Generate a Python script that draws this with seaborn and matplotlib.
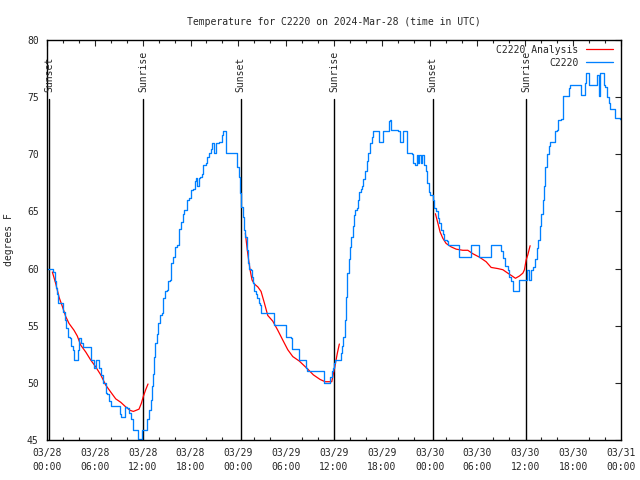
import seaborn as sns
import matplotlib.pyplot as plt
import pandas as pd
import numpy as np

# hours since 2024-03-28 00:00 UTC
obs_hours = [0.0, 0.67, 0.79, 1.0, 1.13, 1.29, 1.42, 1.92,
             2.05, 2.22, 2.42, 2.63, 2.89, 2.97, 3.22, 3.43,
             3.64, 3.85, 4.05, 4.23, 4.48, 5.40, 5.56, 5.90,
             6.11, 6.40, 6.56, 6.81, 7.03, 7.37, 7.57, 7.74,
             7.99, 8.91, 9.12, 9.25, 9.66, 9.82, 10.0, 10.25,
             10.58, 10.75, 11.25, 11.46, 11.76, 11.96, 12.38, 12.58,
             12.80, 13.01, 13.17, 13.34, 13.46, 13.59, 13.76, 13.96,
             14.18, 14.43, 14.59, 14.81, 15.02, 15.18, 15.43, 15.60,
             15.77, 16.06, 16.35, 16.60, 16.78, 17.03, 17.23, 17.53,
             17.85, 18.03, 18.28, 18.53, 18.70, 18.86, 19.03, 19.20,
             19.45, 19.61, 19.91, 20.11, 20.33, 20.58, 20.74, 20.95,
             21.20, 21.54, 21.74, 21.92, 22.05, 22.30, 22.50, 23.68,
             23.88, 24.09, 24.22, 24.38, 24.55, 24.72, 24.88, 25.06,
             25.22, 25.38, 25.56, 25.72, 25.85, 26.01, 26.22, 26.39,
             26.56, 26.73, 26.89, 28.32, 28.48, 29.77, 29.99, 30.61,
             30.74, 31.41, 31.58, 32.28, 32.50, 32.58, 34.59, 34.79,
             35.38, 35.51, 35.72, 35.85, 36.01, 36.14, 36.68, 36.85,
             37.01, 37.18, 37.35, 37.52, 37.68, 37.85, 38.02, 38.18,
             38.36, 38.52, 38.68, 38.86, 39.02, 39.18, 39.36, 39.52,
             39.69, 39.90, 40.11, 40.28, 40.53, 40.74, 40.94, 41.44,
             41.66, 41.99, 42.20, 42.70, 42.87, 43.04, 43.20, 44.08,
             44.29, 44.54, 44.71, 44.96, 45.13, 45.21, 45.80, 45.96,
             46.21, 46.39, 46.55, 46.71, 46.89, 47.05, 47.30, 47.55,
             47.72, 47.89, 48.06, 48.39, 48.59, 48.81, 49.02, 49.22,
             49.44, 49.65, 49.85, 50.15, 50.31, 51.53, 51.73, 52.91,
             53.20, 53.95, 54.17, 55.50, 55.75, 56.75, 56.96, 57.25,
             57.50, 57.80, 58.00, 58.25, 58.50, 59.06, 59.26, 60.10,
             60.26, 60.52, 60.69, 61.02, 61.23, 61.44, 61.64, 61.86,
             62.02, 62.20, 62.36, 62.52, 62.70, 62.95, 63.11, 63.53,
             63.74, 63.95, 64.15, 64.45, 64.70, 64.78, 65.28, 65.46,
             65.62, 66.79, 67.00, 67.29, 67.47, 67.59, 67.84, 68.04,
             68.80, 68.97, 69.26, 69.39, 69.60, 69.81, 70.01, 70.30,
             70.48, 70.64, 71.06, 71.23, 71.90, 72.0]
obs_temp = [60.0, 60.0, 59.7, 58.9, 58.3, 57.8, 57.0, 57.0,
            56.2, 55.5, 54.8, 54.0, 53.9, 53.2, 52.9, 52.0,
            52.0, 52.9, 53.9, 53.5, 53.1, 53.1, 52.0, 51.3,
            52.0, 52.0, 51.3, 50.7, 50.0, 49.1, 49.0, 48.4,
            48.0, 48.0, 47.3, 47.0, 47.0, 47.9, 47.8, 47.4,
            46.8, 45.9, 45.9, 45.05, 45.0, 45.9, 45.9, 46.8,
            47.6, 48.5, 49.7, 50.8, 52.3, 53.5, 54.3, 55.2,
            55.9, 56.1, 57.4, 58.0, 58.1, 58.9, 59.0, 60.5,
            61.0, 61.9, 62.1, 63.5, 64.1, 64.8, 65.1, 66.0,
            66.2, 66.9, 67.0, 67.7, 67.9, 67.2, 67.9, 68.0,
            68.3, 69.1, 69.2, 69.8, 70.1, 70.5, 71.0, 70.1,
            71.0, 71.1, 71.1, 71.7, 72.0, 72.0, 70.1, 70.1,
            68.9, 68.0, 66.6, 65.4, 64.5, 63.4, 62.8, 61.6,
            60.5, 60.0, 59.9, 59.3, 58.7, 58.0, 57.8, 57.4,
            57.0, 56.8, 56.1, 56.1, 55.1, 55.1, 54.0, 53.9,
            53.0, 53.0, 52.0, 52.0, 51.3, 51.0, 51.0, 50.0,
            50.0, 50.5, 51.0, 51.3, 51.7, 52.0, 52.0, 52.6,
            53.2, 54.0, 55.5, 57.5, 59.6, 60.8, 61.9, 62.8,
            63.7, 64.7, 65.1, 65.3, 66.0, 66.7, 67.0, 67.2,
            67.8, 68.5, 69.4, 70.1, 71.0, 71.5, 72.0, 72.0,
            71.1, 71.1, 72.0, 72.0, 72.9, 73.0, 72.1, 72.0,
            71.1, 71.1, 72.0, 72.0, 71.0, 70.1, 70.0, 69.2,
            69.1, 69.9, 69.2, 69.9, 69.2, 69.9, 69.1, 68.5,
            67.5, 66.7, 66.4, 66.0, 65.3, 65.0, 64.4, 64.0,
            63.4, 63.0, 62.5, 62.4, 62.1, 62.1, 61.0, 61.0,
            62.1, 62.1, 61.0, 61.0, 62.1, 62.1, 61.5, 60.9,
            60.2, 59.9, 59.3, 58.9, 58.0, 58.0, 59.0, 59.0,
            59.9, 59.0, 59.9, 60.1, 60.8, 61.8, 62.5, 63.7,
            64.8, 66.0, 67.2, 68.9, 70.0, 70.7, 71.1, 71.1,
            72.0, 72.1, 73.0, 73.1, 74.5, 75.1, 75.1, 75.8,
            76.1, 76.1, 75.2, 75.2, 76.2, 77.1, 77.1, 76.1,
            76.1, 76.9, 75.1, 77.1, 77.1, 76.1, 75.9, 75.0,
            74.5, 74.0, 74.0, 73.2, 73.1, 73.0]

# analysis (three overnight segments)
ana1_hours = [0.67, 1.09, 1.51, 1.92, 2.35, 2.76, 3.39, 3.80, 4.23, 4.86, 5.48, 6.11,
              6.74, 7.37, 7.99, 8.62, 9.25, 9.87, 10.41, 10.83, 11.54, 11.83, 12.08, 12.38, 12.67]
ana1_temp = [59.7, 58.7, 57.5, 56.7, 55.8, 55.2, 54.6, 54.1, 53.3, 52.7, 52.0, 51.4,
             50.7, 49.8, 49.2, 48.6, 48.3, 47.9, 47.6, 47.5, 47.7, 48.2, 48.8, 49.4, 49.9]
ana2_hours = [24.88, 25.18, 25.47, 25.72, 26.01, 26.44, 26.85, 27.26, 27.69, 28.32, 28.95, 29.57,
              30.20, 30.83, 31.66, 32.71, 33.41, 34.25, 34.88, 35.72, 36.01, 36.26, 36.42, 36.67]
ana2_temp = [63.1, 61.3, 59.9, 59.0, 58.65, 58.4, 58.0, 57.0, 55.9, 55.4, 54.6, 53.75,
             52.9, 52.3, 51.9, 51.2, 50.7, 50.3, 50.1, 50.1, 51.1, 52.0, 52.6, 53.4]
ana3_hours = [48.72, 49.02, 49.31, 49.65, 50.06, 50.69, 51.32, 52.16, 52.79, 53.41, 54.24, 55.08,
              55.71, 56.55, 57.18, 57.80, 58.34, 58.76, 59.26, 59.69, 59.89, 60.10, 60.31, 60.60]
ana3_temp = [64.8, 64.0, 63.2, 62.65, 62.2, 61.9, 61.7, 61.6, 61.6, 61.3, 61.0, 60.6,
             60.1, 60.0, 59.9, 59.6, 59.35, 59.15, 59.35, 59.6, 59.9, 60.75, 61.2, 62.0]

sun_hours = [0.3, 12.05, 24.3, 36.05, 48.37, 60.1]
sun_labels = ["Sunset", "Sunrise", "Sunset", "Sunrise", "Sunset", "Sunrise"]

tick_hours = list(range(0, 73, 6))
tick_labels = ["03/28\n00:00", "03/28\n06:00", "03/28\n12:00", "03/28\n18:00",
               "03/29\n00:00", "03/29\n06:00", "03/29\n12:00", "03/29\n18:00",
               "03/30\n00:00", "03/30\n06:00", "03/30\n12:00", "03/30\n18:00",
               "03/31\n00:00"]

obs = pd.DataFrame({"hour": obs_hours, "temp": obs_temp})
segments = [(ana1_hours, ana1_temp), (ana2_hours, ana2_temp), (ana3_hours, ana3_temp)]

sns.set_style("white")
plt.rcParams['font.family'] = ['DejaVu Sans Mono']
fs = 7

fig = plt.figure(figsize=(6.4, 4.8), dpi=100)
ax = fig.add_axes([47 / 640, 40 / 480, 574 / 640, 400 / 480])

# sunrise / sunset markers
for h, lab in zip(sun_hours, sun_labels):
    ax.plot([h, h], [45, 74.85], color="black", lw=1)
    ax.text(h, 75.45, lab, rotation=90, ha="center", va="bottom", fontsize=fs)

for i, (hh, tt) in enumerate(segments):
    seg = pd.DataFrame({"hour": hh, "temp": tt})
    sns.lineplot(data=seg, x="hour", y="temp", estimator=None, sort=False,
                 color="#ff0000", lw=0.9, ax=ax,
                 label="C2220 Analysis" if i == 0 else "_nolegend_")
sns.lineplot(data=obs, x="hour", y="temp", estimator=None, sort=False,
             color="#0080ff", lw=0.95, drawstyle="steps-post", ax=ax, label="C2220")

ax.set_xlim(0, 72)
ax.set_ylim(45, 80)
ax.set_xticks(tick_hours)
ax.set_xticklabels(tick_labels, fontsize=fs, linespacing=1.5)
ax.set_xticks(range(0, 73, 2), minor=True)
ax.set_yticks(range(45, 81, 5))
ax.set_yticklabels([str(v) for v in range(45, 81, 5)], fontsize=fs)
ax.tick_params(direction="in", top=True, right=True, length=4, width=0.8, pad=6)
ax.tick_params(which="minor", direction="in", top=True, bottom=True, length=2.5, width=0.8)
for s in ax.spines.values():
    s.set_color("black")
    s.set_linewidth(1)

ax.set_xlabel("")
ax.set_ylabel("degrees F", fontsize=fs, labelpad=9)
ax.set_title("Temperature for C2220 on 2024-Mar-28 (time in UTC)", fontsize=fs, pad=11)

ax.legend(loc="upper right", bbox_to_anchor=(0.995, 1.0), frameon=False, fontsize=fs,
          markerfirst=False, handlelength=2.8, borderpad=0.1, labelspacing=0.3,
          borderaxespad=0.4)

plt.savefig("out.png", dpi=100)
